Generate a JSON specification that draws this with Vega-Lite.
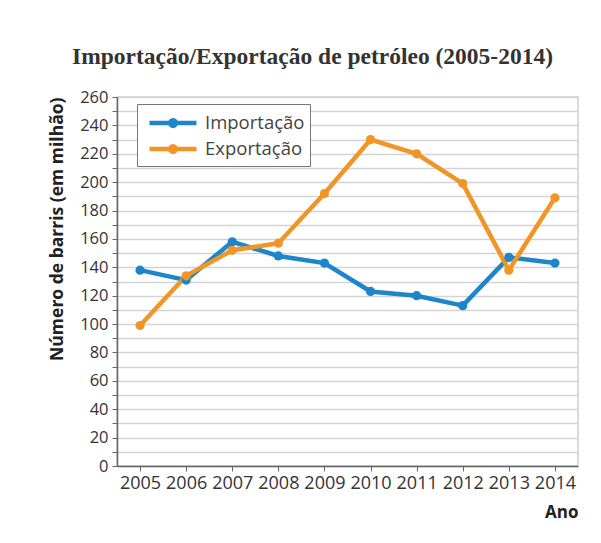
{
  "$schema": "https://vega.github.io/schema/vega-lite/v6.json",
  "autosize": "none",
  "width": 461,
  "height": 369,
  "padding": {"left": 117, "top": 97, "right": 23, "bottom": 77},
  "background": "white",
  "title": {
    "text": "Importação/Exportação de petróleo (2005-2014)",
    "anchor": "start",
    "frame": "group",
    "dx": -45,
    "offset": 2,
    "baseline": "alphabetic",
    "font": "Liberation Serif",
    "fontSize": 23.5,
    "fontWeight": "bold",
    "color": "#333333"
  },
  "data": {
    "values": [
      {"ano": "2005", "tipo": "Importação", "valor": 138},
      {"ano": "2006", "tipo": "Importação", "valor": 131},
      {"ano": "2007", "tipo": "Importação", "valor": 158},
      {"ano": "2008", "tipo": "Importação", "valor": 148},
      {"ano": "2009", "tipo": "Importação", "valor": 143},
      {"ano": "2010", "tipo": "Importação", "valor": 123},
      {"ano": "2011", "tipo": "Importação", "valor": 120},
      {"ano": "2012", "tipo": "Importação", "valor": 113},
      {"ano": "2013", "tipo": "Importação", "valor": 147},
      {"ano": "2014", "tipo": "Importação", "valor": 143},
      {"ano": "2005", "tipo": "Exportação", "valor": 99},
      {"ano": "2006", "tipo": "Exportação", "valor": 134},
      {"ano": "2007", "tipo": "Exportação", "valor": 152},
      {"ano": "2008", "tipo": "Exportação", "valor": 157},
      {"ano": "2009", "tipo": "Exportação", "valor": 192},
      {"ano": "2010", "tipo": "Exportação", "valor": 230},
      {"ano": "2011", "tipo": "Exportação", "valor": 220},
      {"ano": "2012", "tipo": "Exportação", "valor": 199},
      {"ano": "2013", "tipo": "Exportação", "valor": 138},
      {"ano": "2014", "tipo": "Exportação", "valor": 189}
    ]
  },
  "mark": {"type": "line", "strokeWidth": 4.5, "point": {"size": 85, "filled": true}},
  "encoding": {
    "x": {
      "field": "ano",
      "type": "ordinal",
      "scale": {"type": "point", "padding": 0.5},
      "axis": {
        "title": "Ano",
        "titleAnchor": "end",
        "titleX": 461,
        "titleY": 51,
        "titleAlign": "right",
        "titleBaseline": "alphabetic",
        "titleFont": "Open Sans",
        "titleFontSize": 17,
        "titleFontWeight": "bold",
        "titleColor": "#222222",
        "labelAngle": 0,
        "labelFont": "Open Sans",
        "labelFontSize": 18,
        "labelColor": "#333333",
        "labelPadding": 3,
        "labelOverlap": false,
        "tickSize": 5,
        "tickColor": "#666666",
        "domainColor": "#666666",
        "domainWidth": 1.5,
        "grid": false
      }
    },
    "y": {
      "field": "valor",
      "type": "quantitative",
      "scale": {"domain": [0, 260], "nice": false},
      "axis": {
        "values": [0, 10, 20, 30, 40, 50, 60, 70, 80, 90, 100, 110, 120, 130, 140, 150, 160, 170, 180, 190, 200, 210, 220, 230, 240, 250, 260],
        "labelExpr": "datum.value % 20 === 0 ? datum.label : ''",
        "labelOverlap": false,
        "labelFont": "Open Sans",
        "labelFontSize": 16.5,
        "labelColor": "#333333",
        "labelPadding": 4,
        "tickSize": 5,
        "tickColor": "#666666",
        "domainColor": "#666666",
        "domainWidth": 1.5,
        "grid": true,
        "gridColor": "#d4d4d4",
        "gridWidth": 1.5,
        "title": "Número de barris (em milhão)",
        "titleFont": "Open Sans",
        "titleFontSize": 17.5,
        "titleFontWeight": "bold",
        "titleColor": "#222222",
        "titleAngle": -90,
        "titleX": -60,
        "titleY": 0,
        "titleAlign": "right",
        "titleBaseline": "middle"
      }
    },
    "color": {
      "field": "tipo",
      "type": "nominal",
      "scale": {"domain": ["Importação", "Exportação"], "range": ["#1c86c8", "#f29527"]},
      "legend": {
        "orient": "none",
        "legendX": 20,
        "legendY": 7,
        "title": null,
        "symbolType": "M-0.565,0L3.52,0M1.23,0A0.25,0.25,0,1,0,1.73,0A0.25,0.25,0,1,0,1.23,0",
        "symbolSize": 529,
        "symbolStrokeWidth": 4.5,
        "labelOffset": 35,
        "labelFont": "Open Sans",
        "labelFontSize": 18.5,
        "labelColor": "#444444",
        "padding": 5,
        "rowPadding": 0,
        "strokeColor": "#777777",
        "fillColor": "white",
        "cornerRadius": 0
      }
    }
  },
  "config": {
    "view": {"stroke": "#cfcfcf", "strokeWidth": 1.5}
  }
}
